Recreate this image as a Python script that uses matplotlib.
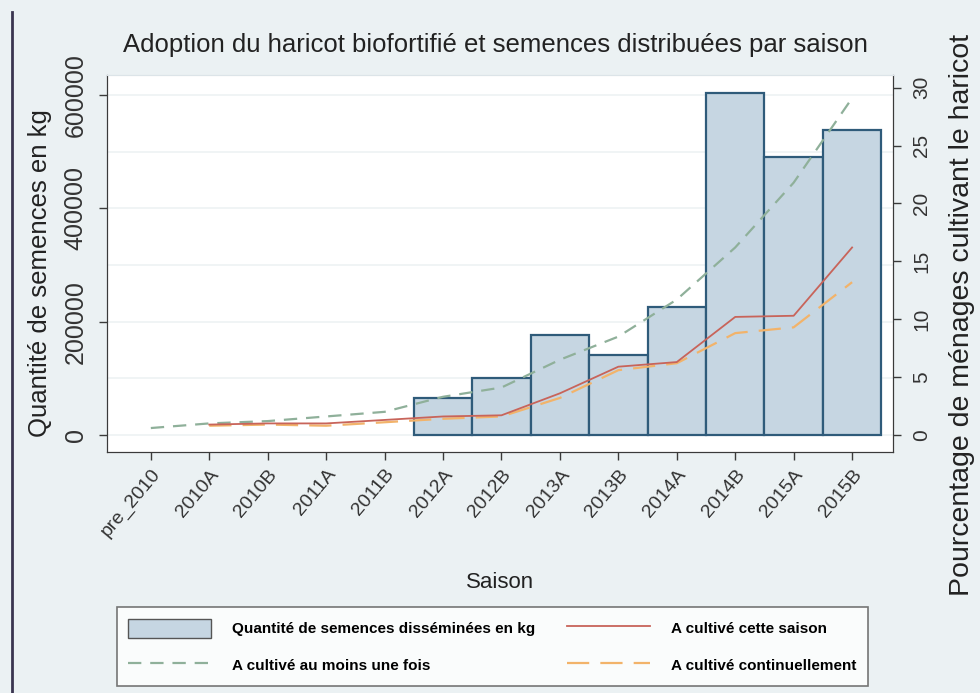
import matplotlib
matplotlib.use("Agg")
import matplotlib.pyplot as plt
import numpy as np
from matplotlib.patches import Patch
from matplotlib.lines import Line2D

# données
saisons = ['pre_2010', '2010A', '2010B', '2011A', '2011B', '2012A', '2012B',
           '2013A', '2013B', '2014A', '2014B', '2015A', '2015B']
semences_kg = [np.nan, np.nan, np.nan, np.nan, np.nan, 65000, 100000,
               177000, 141000, 226000, 604000, 490000, 538000]
au_moins_une_fois = [0.6, 1.0, 1.2, 1.6, 2.0, 3.3, 4.1, 6.5, 8.5, 11.7, 16.2, 21.8, 29.1]
cette_saison = [np.nan, 0.9, 1.0, 1.0, 1.3, 1.6, 1.7, 3.6, 5.9, 6.3, 10.2, 10.3, 16.2]
continuellement = [np.nan, 0.8, 0.9, 0.8, 1.1, 1.4, 1.6, 3.2, 5.6, 6.2, 8.8, 9.3, 13.2]

BG = '#EBF1F3'
BAR_FILL = '#C6D6E2'
BAR_EDGE = '#2F5B7A'
C_GREEN = '#8FB09A'
C_RED = '#C8645A'
C_ORANGE = '#F2B36A'
AX_COL = '#3A3A3A'
TXT = '#222222'

plt.rcParams['font.family'] = ['Liberation Sans', 'DejaVu Sans']

W, H = 980, 693
fig = plt.figure(figsize=(W / 100, H / 100), dpi=100, facecolor=BG)

x0, x1, y0, y1 = 107, 893, 75, 452
ax = fig.add_axes([x0 / W, 1 - y1 / H, (x1 - x0) / W, (y1 - y0) / H])
ax.set_facecolor('white')
x = np.arange(len(saisons))

ax.bar(x, semences_kg, width=1.0, color=BAR_FILL, edgecolor=BAR_EDGE,
       linewidth=1.6, zorder=2)
ax.set_xlim(-0.75, 12.7)
ax.set_ylim(-30000, 635000)
ax.set_yticks([0, 200000, 400000, 600000])
ax.set_yticks(np.arange(0, 700000, 100000), minor=True)
ax.set_yticklabels(['0', '200000', '400000', '600000'], rotation=90, va='center',
                   fontsize=18, color='#333333')
ax.yaxis.grid(True, which='both', color='#EEF2F4', linewidth=1.2, zorder=0)
ax.tick_params(axis='y', which='minor', length=0)
ax.set_axisbelow(True)
ax.set_xticks(x)
ax.set_xticklabels(saisons, rotation=50, ha='right', rotation_mode='anchor',
                   fontsize=14, color='#333333')
ax.tick_params(axis='both', which='major', direction='out', length=6,
               color=AX_COL, width=1)
ax.tick_params(axis='y', pad=8)
ax.tick_params(axis='x', pad=4)
ax.set_ylabel('Quantité de semences en kg', fontsize=18.5, color=TXT, va='center')
ax.yaxis.set_label_coords((40 - x0) / (x1 - x0), (y1 - 273) / (y1 - y0))
ax.set_xlabel('Saison', fontsize=16, color=TXT)
ax.xaxis.set_label_coords(0.5, (y1 - 583) / (y1 - y0))
ax.xaxis.label.set_va('center')

ax2 = ax.twinx()
ax2.plot(x, au_moins_une_fois, color=C_GREEN, linewidth=1.6, dashes=(6, 4), zorder=3)
ax2.plot(x, continuellement, color=C_ORANGE, linewidth=1.6, dashes=(10, 5), zorder=3)
ax2.plot(x, cette_saison, color=C_RED, linewidth=1.3, zorder=4)
ax2.set_ylim(-1.47, 31.1)
ax2.set_yticks([0, 5, 10, 15, 20, 25, 30])
ax2.set_yticklabels(['0', '5', '10', '15', '20', '25', '30'], rotation=90,
                    va='center', fontsize=15, color='#333333')
ax2.tick_params(axis='y', direction='out', length=6, color=AX_COL, width=1, pad=8)
ax2.set_ylabel('Pourcentage de ménages cultivant le haricot', fontsize=20.5,
               color=TXT)
ax2.yaxis.set_label_coords((962 - x0) / (x1 - x0), (y1 - 315) / (y1 - y0))
ax2.yaxis.label.set_va('center')

for a in (ax, ax2):
    a.spines['top'].set_color('#DCE4E8')
    a.spines['left'].set_color(AX_COL)
    a.spines['bottom'].set_color(AX_COL)
    a.spines['right'].set_color(AX_COL)

fig.text(495 / W, 1 - 45 / H,
         'Adoption du haricot biofortifié et semences distribuées par saison',
         ha='center', va='center', fontsize=18.5, color=TXT)

handles = [
    Patch(facecolor=BAR_FILL, edgecolor='#555555', linewidth=1),
    Line2D([], [], color=C_GREEN, linewidth=1.6, dashes=(6, 4)),
    Line2D([], [], color=C_RED, linewidth=1.3),
    Line2D([], [], color=C_ORANGE, linewidth=1.6, dashes=(10, 5)),
]
labels = ['Quantité de semences disséminées en kg', 'A cultivé au moins une fois',
          'A cultivé cette saison', 'A cultivé continuellement']
leg = fig.legend(handles, labels, ncol=2, mode='expand',
                 bbox_to_anchor=(117 / W, 1 - 686 / H, (868 - 117) / W, 76 / H),
                 loc='lower left', frameon=True, fancybox=False,
                 handlelength=5.4, handleheight=1.5, handletextpad=1.4,
                 labelspacing=1.2, borderpad=0.75, borderaxespad=0,
                 prop={'weight': 'bold', 'size': 11})
leg.get_frame().set_edgecolor('#555555')
leg.get_frame().set_linewidth(1.2)

fig.add_artist(Line2D([12 / W, 12 / W], [0, 1 - 12 / H], color='#3A3550',
                      linewidth=2, transform=fig.transFigure))

fig.savefig('out.png', dpi=100, facecolor=BG)
